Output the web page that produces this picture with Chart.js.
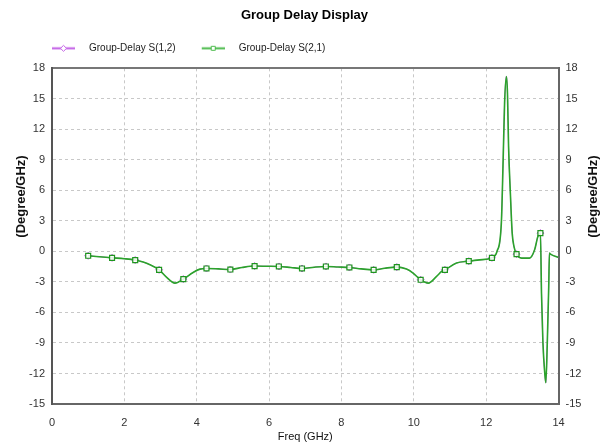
<!DOCTYPE html>
<html>
<head>
<meta charset="utf-8">
<title>Group Delay Display</title>
<script src="https://cdn.jsdelivr.net/npm/chart.js@4.4.1/dist/chart.umd.min.js"></script>
<style>
  html, body { margin: 0; padding: 0; background: #fff; }
  canvas { display: block; }
</style>
</head>
<body>
<canvas id="delayChart" width="603" height="448"></canvas>
<script>
// trace points (GHz / Degree per GHz)
const freq = [1.00, 1.66, 2.00, 2.30, 2.52, 2.71, 2.96, 3.17, 3.40, 3.63, 3.90, 4.09, 4.27, 4.60, 4.93,
  5.25, 5.60, 5.95, 6.27, 6.60, 6.91, 7.25, 7.57, 7.90, 8.22, 8.55, 8.89, 9.20, 9.53, 9.80, 9.98,
  10.19, 10.40, 10.63, 10.77, 10.86, 11.18, 11.52, 11.82, 12.16, 12.30, 12.42, 12.47, 12.51, 12.56,
  12.59, 12.62, 12.67, 12.72, 12.77, 12.84, 12.98, 13.20, 13.34, 13.43, 13.50, 13.53, 13.57, 13.62,
  13.65, 13.69, 13.73, 13.75, 13.78, 14.00];
const s21 = [-0.43, -0.63, -0.72, -0.85, -1.05, -1.32, -1.81, -2.56, -3.12, -2.72, -2.07, -1.74, -1.68, -1.72, -1.78,
  -1.58, -1.44, -1.46, -1.48, -1.58, -1.68, -1.55, -1.48, -1.53, -1.58, -1.72, -1.81, -1.65, -1.54, -1.74, -2.13,
  -2.79, -3.12, -2.46, -1.97, -1.81, -1.15, -0.96, -0.83, -0.63, 0.0, 2.78, 9.0, 14.6, 17.2,
  15.5, 10.3, 5.7, 1.8, 0.48, -0.27, -0.66, -0.66, 0.16, 1.46, 1.8, -4.1, -9.0, -11.95,
  -12.9, -9.0, -3.45, -0.17, -0.27, -0.6];
const s12 = [-0.43, -0.63, -0.72, -0.85, -1.05, -1.32, -1.81, -2.56, -3.12, -2.72, -2.07, -1.74, -1.68, -1.72, -1.78,
  -1.58, -1.44, -1.46, -1.48, -1.58, -1.68, -1.55, -1.48, -1.53, -1.58, -1.72, -1.81, -1.65, -1.54, -1.74, -2.13,
  -2.79, -3.12, -2.46, -1.97, -1.81, -1.15, -0.96, -0.83, -0.63, 0.0, 2.78, 9.0, 14.6, 17.2,
  15.5, 10.3, 5.7, 1.8, 0.48, -0.27, -0.66, -0.66, 0.16, 1.46, 1.8, -4.1, -9.0, -11.95,
  -12.9, -9.0, -3.45, -0.17, -0.27, -0.6];
// frequencies that carry a marker
const markerFreq = [1.00, 1.66, 2.30, 2.96, 3.63, 4.27, 4.93, 5.60, 6.27, 6.91, 7.57, 8.22, 8.89,
  9.53, 10.19, 10.86, 11.52, 12.16, 12.84, 13.50];
const xTicks = [0, 2, 4, 6, 8, 10, 12, 14];
const yTicks = [-15, -12, -9, -6, -3, 0, 3, 6, 9, 12, 15, 18];
const seriesNames = ['Group-Delay S(1,2)', 'Group-Delay S(2,1)'];

const FONT = "'Liberation Sans', Arial, sans-serif";

function toPoints(ys) {
  return freq.map((f, i) => ({ x: f, y: ys[i] }));
}

function markerRadius(r) {
  return ctx => (ctx.raw && markerFreq.includes(ctx.raw.x)) ? r : 0;
}

// line + marker swatch for the legend
function legendIcon(color, shape) {
  const c = document.createElement('canvas');
  c.width = 30; c.height = 9;
  const g = c.getContext('2d');
  g.strokeStyle = color;
  g.lineWidth = 2;
  g.beginPath(); g.moveTo(7, 4.5); g.lineTo(30, 4.5); g.stroke();
  g.lineWidth = 1;
  g.fillStyle = '#fff';
  g.beginPath();
  if (shape === 'diamond') {
    g.moveTo(18.5, 1.5); g.lineTo(21.5, 4.5); g.lineTo(18.5, 7.5); g.lineTo(15.5, 4.5); g.closePath();
  } else {
    g.rect(16.5, 2.5, 4, 4);
  }
  g.fill(); g.stroke();
  return c;
}
const icons = [legendIcon('#c25ee6', 'diamond'), legendIcon('#4cbb4c', 'square')];

// y axis titles sit a bit above the middle, so draw them by hand
const sideTitles = {
  id: 'sideTitles',
  afterDraw(chart) {
    const ctx = chart.ctx;
    ctx.save();
    ctx.font = 'bold 13px ' + FONT;
    ctx.fillStyle = '#111';
    ctx.textAlign = 'center';
    ctx.textBaseline = 'middle';
    [21, 593].forEach(x => {
      ctx.save();
      ctx.translate(x, 196.5);
      ctx.rotate(-Math.PI / 2);
      ctx.fillText('(Degree/GHz)', 0, 0);
      ctx.restore();
    });
    ctx.restore();
  }
};

const gridColor = edges => ctx => (ctx.tick && edges.includes(ctx.tick.value)) ? 'rgba(0,0,0,0)' : '#c8c8c8';
const tickFont = { family: FONT, size: 11 };

new Chart(document.getElementById('delayChart'), {
  type: 'line',
  data: {
    datasets: [
      {
        label: seriesNames[0],
        data: toPoints(s12),
        order: 2,
        borderColor: '#b94fe0',
        borderWidth: 0.8,
        pointStyle: 'rectRot',
        pointRadius: markerRadius(3.5),
        pointBorderColor: '#b94fe0',
        pointBackgroundColor: '#fff',
        pointBorderWidth: 1,
        cubicInterpolationMode: 'monotone'
      },
      {
        label: seriesNames[1],
        data: toPoints(s21),
        order: 1,
        borderColor: '#2ba32b',
        borderWidth: 1.6,
        pointStyle: 'rect',
        pointRadius: markerRadius(3.5),
        pointBorderColor: '#1f961f',
        pointBackgroundColor: 'rgba(255,255,255,0.85)',
        pointBorderWidth: 1.2,
        cubicInterpolationMode: 'monotone'
      }
    ]
  },
  options: {
    responsive: false,
    animation: false,
    devicePixelRatio: 1,
    layout: { padding: { left: 26, right: 20, top: 0, bottom: 0 } },
    scales: {
      x: {
        type: 'linear',
        position: 'bottom',
        min: 0, max: 14,
        afterBuildTicks: s => { s.ticks = xTicks.map(v => ({ value: v })); },
        afterFit: s => { s.height = 44; },
        ticks: { font: tickFont, color: '#333', padding: 12, maxRotation: 0 },
        grid: { color: gridColor([0, 14]), drawTicks: false, lineWidth: 1 },
        border: { color: '#666', width: 2, dash: [3, 3] },
        title: { display: true, text: 'Freq (GHz)', font: { family: FONT, size: 11 }, color: '#111', padding: { top: 0, bottom: 4 } }
      },
      xTop: {
        type: 'linear',
        position: 'top',
        min: 0, max: 14,
        afterFit: s => { s.height = 5; },
        ticks: { display: false },
        grid: { display: false, drawTicks: false },
        border: { color: '#777', width: 2 }
      },
      y: {
        type: 'linear',
        position: 'left',
        min: -15, max: 18,
        afterBuildTicks: s => { s.ticks = yTicks.map(v => ({ value: v })); },
        afterFit: s => { s.width = 26; },
        ticks: { font: tickFont, color: '#333', padding: 7 },
        grid: { color: gridColor([-15, 18]), drawTicks: false, lineWidth: 1 },
        border: { color: '#555', width: 2, dash: [3, 3] }
      },
      yRight: {
        type: 'linear',
        position: 'right',
        min: -15, max: 18,
        afterBuildTicks: s => { s.ticks = yTicks.map(v => ({ value: v })); },
        afterFit: s => { s.width = 24.5; },
        ticks: { font: tickFont, color: '#333', padding: 7 },
        grid: { display: false, drawTicks: false },
        border: { color: '#666', width: 2 }
      }
    },
    plugins: {
      title: {
        display: true,
        text: 'Group Delay Display',
        color: '#000',
        font: { family: FONT, size: 13, weight: 'bold' },
        padding: { top: 8, bottom: 9.7 }
      },
      legend: {
        display: true,
        position: 'top',
        align: 'start',
        labels: {
          font: { family: FONT, size: 10 },
          color: '#222',
          padding: 10,
          usePointStyle: true,
          pointStyleWidth: 48,
          generateLabels: chart => chart.data.datasets.map((ds, i) => ({
            text: ds.label,
            pointStyle: icons[i],
            fontColor: '#222',
            fillStyle: 'rgba(0,0,0,0)',
            strokeStyle: 'rgba(0,0,0,0)',
            lineWidth: 0,
            hidden: false,
            datasetIndex: i
          }))
        }
      },
      tooltip: { enabled: false }
    }
  },
  plugins: [sideTitles]
});
</script>
</body>
</html>
